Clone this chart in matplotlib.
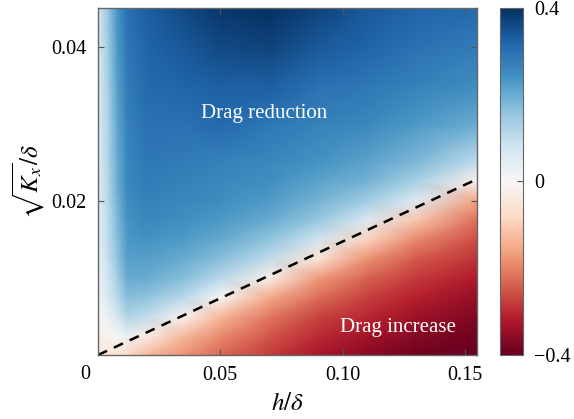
import matplotlib
matplotlib.use("Agg")
import matplotlib.pyplot as plt
import numpy as np

# grid of substrate thickness h/delta and permeability sqrt(Kx)/delta
h_vals = [0, 0.004, 0.008, 0.012, 0.02, 0.035, 0.05, 0.07, 0.09, 0.11, 0.13, 0.155]
k_vals = [0, 0.0025, 0.005, 0.0075, 0.01, 0.0125, 0.015, 0.0175, 0.02,
          0.0225, 0.025, 0.03, 0.035, 0.04, 0.045]

# drag change, one list per h column (bottom -> top)
dr_h000 = [-0.05, -0.03, 0.00, 0.02, 0.03, 0.03, 0.04, 0.04, 0.04, 0.05, 0.05, 0.05, 0.06, 0.06, 0.07]
dr_h004 = [-0.05, -0.01, 0.03, 0.06, 0.08, 0.09, 0.10, 0.10, 0.11, 0.11, 0.12, 0.12, 0.13, 0.14, 0.15]
dr_h008 = [-0.06, 0.00, 0.07, 0.11, 0.14, 0.16, 0.17, 0.18, 0.19, 0.20, 0.20, 0.21, 0.22, 0.23, 0.24]
dr_h012 = [-0.08, 0.03, 0.12, 0.17, 0.20, 0.22, 0.23, 0.24, 0.25, 0.26, 0.26, 0.27, 0.28, 0.29, 0.30]
dr_h020 = [-0.13, -0.03, 0.10, 0.16, 0.20, 0.22, 0.24, 0.26, 0.27, 0.28, 0.29, 0.30, 0.31, 0.32, 0.33]
dr_h035 = [-0.18, -0.13, -0.01, 0.11, 0.17, 0.20, 0.225, 0.245, 0.26, 0.27, 0.28, 0.30, 0.32, 0.34, 0.36]
dr_h050 = [-0.23, -0.19, -0.13, 0.00, 0.11, 0.17, 0.205, 0.23, 0.25, 0.26, 0.27, 0.31, 0.33, 0.36, 0.39]
dr_h070 = [-0.28, -0.25, -0.21, -0.15, -0.025, 0.10, 0.16, 0.20, 0.225, 0.245, 0.26, 0.29, 0.33, 0.37, 0.40]
dr_h090 = [-0.33, -0.30, -0.27, -0.225, -0.17, -0.055, 0.08, 0.15, 0.19, 0.215, 0.24, 0.27, 0.30, 0.34, 0.37]
dr_h110 = [-0.36, -0.335, -0.305, -0.275, -0.235, -0.18, -0.09, 0.06, 0.14, 0.19, 0.215, 0.26, 0.29, 0.32, 0.34]
dr_h130 = [-0.39, -0.365, -0.34, -0.31, -0.28, -0.245, -0.19, -0.11, 0.05, 0.13, 0.18, 0.23, 0.27, 0.30, 0.32]
dr_h155 = [-0.40, -0.39, -0.37, -0.35, -0.32, -0.29, -0.26, -0.22, -0.16, -0.02, 0.10, 0.20, 0.25, 0.28, 0.31]

# neutral line separating drag reduction from drag increase
boundary_h = [0, 0.155]
boundary_k = [0, 0.0228]

plt.rcParams["font.family"] = ["Liberation Serif", "DejaVu Serif"]
plt.rcParams["mathtext.fontset"] = "stix"

dr = np.array([dr_h000, dr_h004, dr_h008, dr_h012, dr_h020, dr_h035, dr_h050,
               dr_h070, dr_h090, dr_h110, dr_h130, dr_h155]).T

fig = plt.figure(figsize=(5.74, 4.19), dpi=100)
ax = fig.add_axes([0.1707, 0.1527, 0.6603, 0.8283])
cax = fig.add_axes([0.871, 0.1527, 0.040, 0.8283])

mesh = ax.pcolormesh(h_vals, k_vals, dr, cmap="RdBu", vmin=-0.4, vmax=0.4,
                     shading="gouraud", rasterized=True)
ax.plot(boundary_h, boundary_k, color="black", linestyle=(0, (4, 3)), linewidth=1.8)

ax.set_xlim(0, 0.155)
ax.set_ylim(0, 0.045)
ax.set_xticks([0.05, 0.10, 0.15])
ax.set_xticklabels(["0.05", "0.10", "0.15"])
ax.set_yticks([0.02, 0.04])
ax.set_yticklabels(["0.02", "0.04"])
ax.tick_params(direction="in", top=True, right=True, length=4, width=0.8,
               color="#555555", labelsize=14.5, pad=8)
for s in ax.spines.values():
    s.set_color("#666666")
    s.set_linewidth(1.0)

# shared origin label at the corner
ax.annotate("0", xy=(0, 0), xytext=(-13, -10), textcoords="offset pixels",
            ha="center", va="top", fontsize=14.5)

ax.set_xlabel(r"$h/\delta$", fontsize=18, labelpad=6)
ax.set_ylabel(r"$\sqrt{K_x}/\delta$", fontsize=18, labelpad=3)

ax.text(0.068, 0.0313, "Drag reduction", color="white", fontsize=15,
        ha="center", va="center")
ax.text(0.1227, 0.0036, "Drag increase", color="white", fontsize=15,
        ha="center", va="center")

cb = fig.colorbar(mesh, cax=cax, ticks=[-0.4, 0, 0.4])
cb.ax.set_yticklabels(["\u22120.4", "0", "0.4"])
cb.ax.tick_params(direction="in", length=4, color="#555555", labelsize=14.5, pad=8)
cb.outline.set_edgecolor("#666666")

fig.savefig("out.png", dpi=100)
